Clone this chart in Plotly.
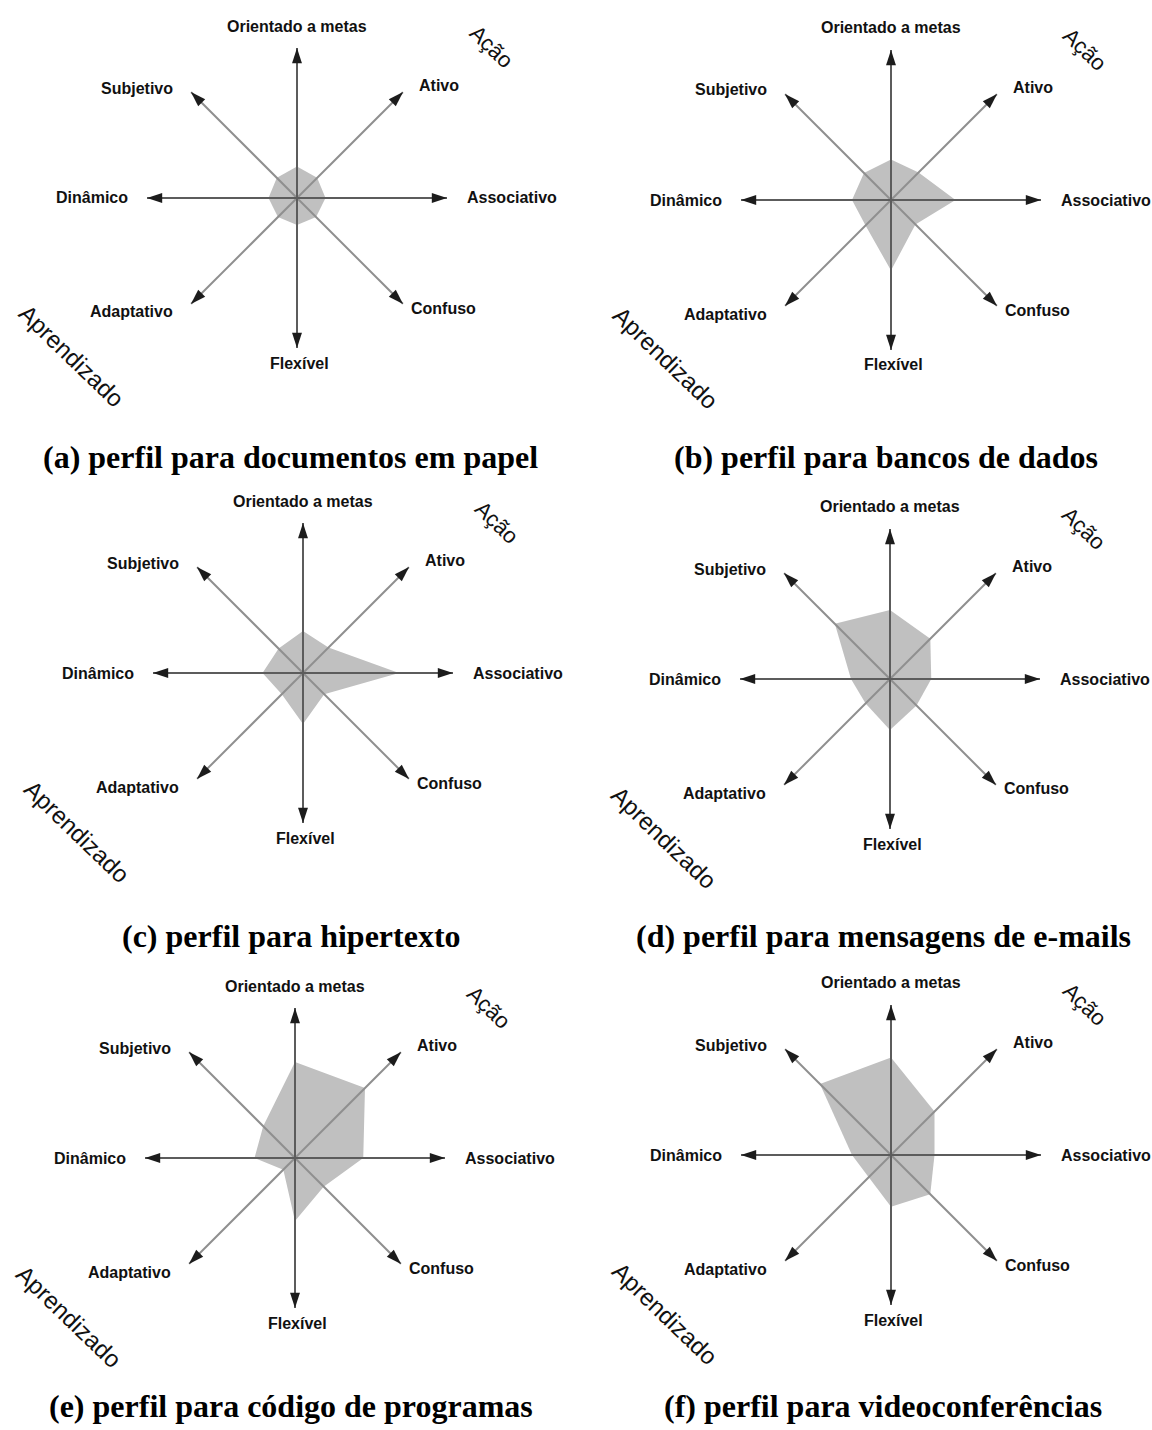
import plotly.graph_objects as go

W, H = 1152, 1430

# ---------------- data ----------------
CATEGORIES = ["Orientado a metas", "Ativo", "Associativo", "Confuso",
              "Flexível", "Adaptativo", "Dinâmico", "Subjetivo"]

perfil_a = [0.21, 0.19, 0.19, 0.18, 0.18, 0.18, 0.19, 0.19]
perfil_b = [0.27, 0.26, 0.43, 0.23, 0.47, 0.24, 0.26, 0.255]
perfil_c = [0.28, 0.24, 0.64, 0.20, 0.34, 0.20, 0.27, 0.23]
perfil_d = [0.46, 0.38, 0.275, 0.25, 0.34, 0.23, 0.26, 0.52]
perfil_e = [0.64, 0.66, 0.455, 0.27, 0.42, 0.11, 0.27, 0.30]
perfil_f = [0.65, 0.41, 0.29, 0.37, 0.345, 0.21, 0.26, 0.67]

CAPTIONS = ["(a) perfil para documentos em papel",
            "(b) perfil para bancos de dados",
            "(c) perfil para hipertexto",
            "(d) perfil para mensagens de e-mails",
            "(e) perfil para código de programas",
            "(f) perfil para videoconferências"]

AXIS_MAX = 1.0
GROUP_TOP = "Ação"
GROUP_BOTTOM = "Aprendizado"

PROFILES = [perfil_a, perfil_b, perfil_c, perfil_d, perfil_e, perfil_f]

# ---------------- layout (pixel geometry, styling only) ----------------
CENTERS = [(297, 198), (891, 200), (303, 673), (890, 679), (295, 1158), (891, 1155)]
CAPTION_POS = [(290, 457), (886, 457), (291, 936), (883, 936), (291, 1406), (883, 1406)]
R_PX = 150
# label placement per axis direction: (dx, dy, xanchor)
LABEL_PLACE = [(0, -172, "center"), (142, -113, "center"), (168, 0, "left"),
               (146, 110, "center"), (2, 165, "center"), (-166, 114, "center"),
               (-167, 0, "right"), (-160, -110, "center")]

def px(x):
    return x / W

def py(y):
    return 1 - y / H

fig = go.Figure()
annotations = []
layout_polars = {}

orth = [c for i, c in enumerate(CATEGORIES) if i % 2 == 0]
diag = [c for i, c in enumerate(CATEGORIES) if i % 2 == 1]

def spokes(cats):
    r, t = [], []
    for c in cats:
        r += [0, AXIS_MAX, None]
        t += [c, c, None]
    return r, t

LABEL_FONT = dict(family="Liberation Sans", size=16, color="#111111", weight="bold")

for k, (vals, (cx, cy)) in enumerate(zip(PROFILES, CENTERS)):
    sub = "polar" if k == 0 else f"polar{k+1}"
    # profile polygon
    fig.add_trace(go.Scatterpolar(
        r=vals + [vals[0]], theta=CATEGORIES + [CATEGORIES[0]],
        mode="lines", fill="toself", fillcolor="rgb(192,192,192)",
        line=dict(width=0, color="rgb(192,192,192)"),
        subplot=sub, hoverinfo="skip"))
    # diagonal spokes
    r, t = spokes(diag)
    fig.add_trace(go.Scatterpolar(r=r, theta=t, mode="lines",
                                  line=dict(color="#8f8f8f", width=2),
                                  subplot=sub, hoverinfo="skip", connectgaps=False))
    # orthogonal spokes
    r, t = spokes(orth)
    fig.add_trace(go.Scatterpolar(r=r, theta=t, mode="lines",
                                  line=dict(color="#5c5c5c", width=2),
                                  subplot=sub, hoverinfo="skip", connectgaps=False))
    # arrow heads
    fig.add_trace(go.Scatterpolar(
        r=[AXIS_MAX] * len(CATEGORIES), theta=CATEGORIES, mode="markers",
        marker=dict(symbol="arrow", size=16, color="#1c1c1c",
                    angle=[i * 45 for i in range(len(CATEGORIES))],
                    line=dict(width=0)),
        subplot=sub, hoverinfo="skip"))

    layout_polars[sub] = dict(
        domain=dict(x=[px(cx - R_PX), px(cx + R_PX)],
                    y=[py(cy + R_PX), py(cy - R_PX)]),
        bgcolor="rgba(0,0,0,0)",
        radialaxis=dict(visible=False, range=[0, AXIS_MAX]),
        angularaxis=dict(type="category", categoryorder="array",
                         categoryarray=CATEGORIES, rotation=90,
                         direction="clockwise", showgrid=False, showline=False,
                         ticks="", showticklabels=False),
    )

    # axis labels
    for name, (dx, dy, xa) in zip(CATEGORIES, LABEL_PLACE):
        annotations.append(dict(
            text=name, x=px(cx + dx), y=py(cy + dy), xref="paper", yref="paper",
            showarrow=False, xanchor=xa, yanchor="middle", font=LABEL_FONT))

    annotations.append(dict(
        text=GROUP_TOP, x=px(cx + 194), y=py(cy - 151), xref="paper", yref="paper",
        showarrow=False, textangle=44, xanchor="center", yanchor="middle",
        font=dict(family="Liberation Sans", size=22, color="#111111")))
    annotations.append(dict(
        text=GROUP_BOTTOM, x=px(cx - 226), y=py(cy + 158), xref="paper", yref="paper",
        showarrow=False, textangle=44, xanchor="center", yanchor="middle",
        font=dict(family="Liberation Sans", size=24, color="#111111")))

for cap, (x, y) in zip(CAPTIONS, CAPTION_POS):
    annotations.append(dict(
        text=f"<b>{cap}</b>", x=px(x), y=py(y), xref="paper", yref="paper",
        showarrow=False, xanchor="center", yanchor="middle",
        font=dict(family="Liberation Serif", size=32, color="#000000")))

fig.update_layout(
    width=W, height=H,
    margin=dict(l=0, r=0, t=0, b=0),
    paper_bgcolor="white", plot_bgcolor="white",
    showlegend=False,
    annotations=annotations,
    **layout_polars,
)

fig.write_html("out.html",
               config={"displayModeBar": False},
               post_script="document.body.style.margin='0';document.body.style.overflow='hidden';")
